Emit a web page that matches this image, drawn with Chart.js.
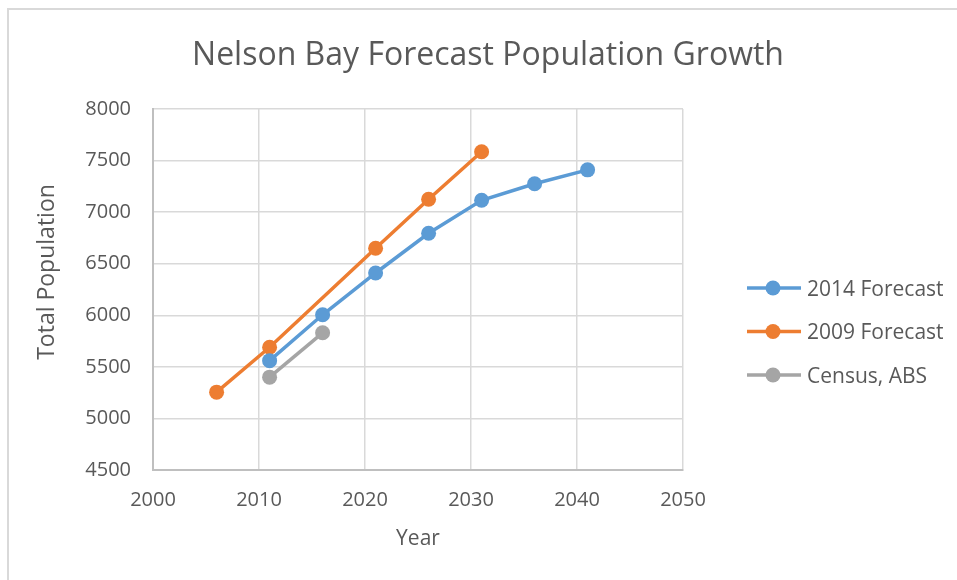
<!DOCTYPE html>
<html>
<head>
<meta charset="utf-8">
<script src="https://cdn.jsdelivr.net/npm/chart.js@4/dist/chart.umd.min.js"></script>
<style>
  html, body { margin: 0; padding: 0; background: #fff; }
  canvas { display: block; }
</style>
</head>
<body>
<canvas id="chart" width="957" height="580"></canvas>
<script>
const chartTitle = 'Nelson Bay Forecast Population Growth';
const xTitle = 'Year';
const yTitle = 'Total Population';

const seriesNames = ['2014 Forecast', '2009 Forecast', 'Census, ABS'];
const seriesColors = ['#5b9bd5', '#ed7d31', '#a5a5a5'];

const years2014 = [2011, 2016, 2021, 2026, 2031, 2036, 2041];
const forecast2014 = [5560, 6005, 6410, 6795, 7115, 7275, 7410];

const years2009 = [2006, 2011, 2021, 2026, 2031];
const forecast2009 = [5255, 5690, 6650, 7125, 7585];

const censusYears = [2011, 2016];
const censusValues = [5400, 5830];

const xTicks = [2000, 2010, 2020, 2030, 2040, 2050];
const yTicks = [4500, 5000, 5500, 6000, 6500, 7000, 7500, 8000];

const textColor = '#595959';
const fontFamily = '"Open Sans", "DejaVu Sans", sans-serif';

function toPoints(xs, ys) {
  return xs.map((x, i) => ({ x, y: ys[i] }));
}

function makeDataset(i, xs, ys) {
  return {
    label: seriesNames[i],
    data: toPoints(xs, ys),
    showLine: true,
    borderColor: seriesColors[i],
    backgroundColor: seriesColors[i],
    borderWidth: 3.5,
    pointRadius: 7.5,
    pointHoverRadius: 7.5,
    pointBorderWidth: 0,
    pointBackgroundColor: seriesColors[i],
    order: i
  };
}

// frame, chart title, y axis title and legend
const chromePlugin = {
  id: 'chrome',
  beforeDraw(chart) {
    const ctx = chart.ctx;
    ctx.save();
    ctx.strokeStyle = '#d9d9d9';
    ctx.lineWidth = 2;
    ctx.beginPath();
    ctx.moveTo(8, 580);
    ctx.lineTo(8, 9);
    ctx.lineTo(957, 9);
    ctx.stroke();
    ctx.restore();
  },
  afterDraw(chart) {
    const ctx = chart.ctx;
    ctx.save();
    ctx.fillStyle = textColor;
    ctx.textBaseline = 'alphabetic';

    ctx.font = '32px ' + fontFamily;
    ctx.textAlign = 'center';
    ctx.fillText(chartTitle, 488, 65);

    ctx.save();
    ctx.translate(54, 272);
    ctx.rotate(-Math.PI / 2);
    ctx.font = '23px ' + fontFamily;
    ctx.fillText(yTitle, 0, 0);
    ctx.restore();

    ctx.font = '21px ' + fontFamily;
    ctx.textAlign = 'left';
    chart.data.datasets.forEach((ds, i) => {
      const y = 288 + i * 43.5;
      ctx.strokeStyle = ds.borderColor;
      ctx.lineWidth = 3.5;
      ctx.beginPath();
      ctx.moveTo(747, y);
      ctx.lineTo(801, y);
      ctx.stroke();
      ctx.fillStyle = ds.borderColor;
      ctx.beginPath();
      ctx.arc(773, y, 7.5, 0, Math.PI * 2);
      ctx.fill();
      ctx.fillStyle = textColor;
      ctx.fillText(ds.label, 807, y + 7.5);
    });
    ctx.restore();
  }
};

new Chart(document.getElementById('chart'), {
  type: 'scatter',
  data: {
    datasets: [
      makeDataset(0, years2014, forecast2014),
      makeDataset(1, years2009, forecast2009),
      makeDataset(2, censusYears, censusValues)
    ]
  },
  options: {
    responsive: false,
    animation: false,
    layout: { padding: { top: 109, right: 274, bottom: 26, left: 0 } },
    plugins: {
      legend: { display: false },
      title: { display: false },
      tooltip: { enabled: false }
    },
    scales: {
      x: {
        type: 'linear',
        min: xTicks[0],
        max: xTicks[xTicks.length - 1],
        afterBuildTicks: scale => { scale.ticks = xTicks.map(v => ({ value: v })); },
        afterFit: scale => { scale.height = 84; },
        grid: { color: '#d9d9d9', lineWidth: 1.5, drawTicks: false, tickLength: 0 },
        border: { color: '#bfbfbf', width: 2 },
        ticks: {
          padding: 18,
          color: textColor,
          font: { family: fontFamily, size: 20 },
          callback: v => String(v)
        },
        title: {
          display: true,
          text: xTitle,
          color: textColor,
          font: { family: fontFamily, size: 21 },
          padding: { top: 0, bottom: 2 }
        }
      },
      y: {
        type: 'linear',
        min: yTicks[0],
        max: yTicks[yTicks.length - 1],
        afterBuildTicks: scale => { scale.ticks = yTicks.map(v => ({ value: v })); },
        afterFit: scale => { scale.width = 153; },
        grid: { color: '#d9d9d9', lineWidth: 1.5, drawTicks: false, tickLength: 0 },
        border: { color: '#bfbfbf', width: 2 },
        ticks: {
          padding: 22,
          color: textColor,
          font: { family: fontFamily, size: 20 },
          callback: v => String(v)
        }
      }
    }
  },
  plugins: [chromePlugin]
});
</script>
</body>
</html>
